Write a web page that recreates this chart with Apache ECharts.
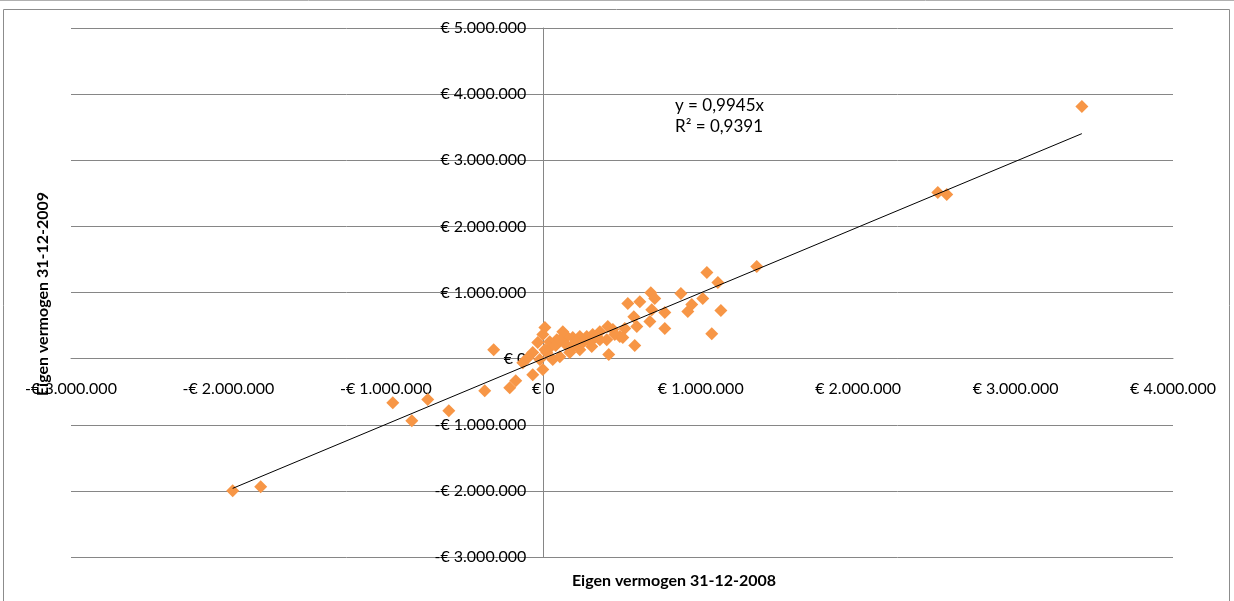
<!DOCTYPE html>
<html><head><meta charset="utf-8">
<script src="https://cdn.jsdelivr.net/npm/echarts@6/dist/echarts.min.js"></script>
<style>html,body{margin:0;padding:0;background:#fff}#c{width:1234px;height:601px}</style>
</head><body><div id="c"></div>
<script>
// Eigen vermogen 31-12-2008 (x) vs 31-12-2009 (y), in euro
const eigenVermogen2008 = [-1973000,-1795000,-956000,-835000,-734000,-600000,-372000,-315000,-213000,-175000,
 3421000,2506000,2563000,1356000,1039000,1109000,1128000,1070000,1013000,943000,918000,874000,
 683000,708000,613000,537000,689000,772000,677000,772000,575000,594000,518000,581000,442000,410000,
 359000,314000,276000,232000,187000,149000,124000,86000,41000,-3000,-35000,41000,-67000,-22000,-3000,-67000,
 416000,187000,232000,105000,60000,168000,251000,314000,403000,486000,308000,-130000,-98000,22000,
 79000,143000,206000,10000,105000,295000,359000,454000,505000,10000];
const eigenVermogen2009 = [-1997000,-1936000,-666000,-938000,-620000,-787000,-484000,136000,-439000,-333000,
 3812000,2511000,2481000,1392000,1301000,1150000,726000,378000,908000,817000,711000,983000,
 998000,908000,862000,832000,741000,696000,560000,454000,635000,484000,454000,197000,439000,484000,
 408000,363000,333000,333000,318000,333000,408000,287000,257000,363000,242000,166000,91000,-15000,-166000,-242000,
 61000,182000,136000,30000,-15000,91000,242000,287000,287000,333000,182000,-61000,15000,91000,
 197000,212000,257000,136000,287000,257000,287000,363000,318000,469000];
const trendSlope = 0.9945;
const trendLabel = ['y = 0,9945x', 'R² = 0,9391'];
const xTitle = 'Eigen vermogen 31-12-2008';
const yTitle = 'Eigen vermogen 31-12-2009';
const xMin = -3000000, xMax = 4000000, yMin = -3000000, yMax = 5000000, step = 1000000;

const points = eigenVermogen2008.map((x, i) => [x, eigenVermogen2009[i]]);
const minX = Math.min(...eigenVermogen2008), maxX = Math.max(...eigenVermogen2008);
const trend = [[minX, trendSlope * minX], [maxX, trendSlope * maxX]];

function euro(v) {
  const a = Math.abs(v).toFixed(0).replace(/\B(?=(\d{3})+(?!\d))/g, '.');
  return (v < 0 ? '-€ ' : '€ ') + a;
}
const W = 1234, H = 601;
const gL = 71, gR = 61, gT = 28, gB = 44;
const gW = W - gL - gR, gH = H - gT - gB;
// put the axes (line + labels) through zero, as in the original
const xOffset = -gH * (0 - yMin) / (yMax - yMin);
const yOffset = -gW * (0 - xMin) / (xMax - xMin);

const font = 'Lato, "Liberation Sans", sans-serif';
const chart = echarts.init(document.getElementById('c'), null, {renderer: 'canvas'});
chart.setOption({
  animation: false,
  grid: {left: gL, right: gR, top: gT, bottom: gB, containLabel: false, outerBoundsMode: 'none'},
  xAxis: {
    type: 'value', min: xMin, max: xMax, interval: step, position: 'bottom', offset: xOffset,
    axisLine: {onZero: false, lineStyle: {color: '#868686', width: 1}},
    axisTick: {show: false},
    splitLine: {show: false},
    axisLabel: {formatter: euro, color: '#000', fontSize: 16, fontFamily: font, margin: 22}
  },
  yAxis: {
    type: 'value', min: yMin, max: yMax, interval: step, position: 'left', offset: yOffset,
    axisLine: {show: true, onZero: false, lineStyle: {color: '#868686', width: 1}},
    axisTick: {show: false},
    splitLine: {show: true, lineStyle: {color: '#868686', width: 1}},
    axisLabel: {formatter: euro, color: '#000', fontSize: 16, fontFamily: font, margin: 17}
  },
  series: [
    {type: 'scatter', data: points, symbol: 'diamond', symbolSize: 13,
     itemStyle: {color: '#F79646', opacity: 1}, z: 3},
    {type: 'line', data: trend, symbol: 'none', lineStyle: {color: '#000', width: 1}, z: 4}
  ],
  graphic: [
    {type: 'rect', shape: {x: 3.5, y: 9.5, width: 1226, height: 600}, style: {fill: 'none', stroke: '#8c8c8c', lineWidth: 1}, silent: true},
    {type: 'line', shape: {x1: 0, y1: 0.5, x2: 1234, y2: 0.5}, style: {stroke: '#b0b0b0', lineWidth: 1}},
    {type: 'text', left: 675, top: 95, style: {text: trendLabel.join('\n'), font: '17px ' + font, fill: '#000', lineHeight: 21}},
    {type: 'text', x: 674, y: 581, style: {text: xTitle, font: 'bold 16px ' + font, fill: '#000', align: 'center', verticalAlign: 'middle'}},
    {type: 'text', x: 43, y: 294, rotation: Math.PI / 2, style: {text: yTitle, font: 'bold 16px ' + font, fill: '#000', align: 'center', verticalAlign: 'middle'}}
  ]
});
</script></body></html>
